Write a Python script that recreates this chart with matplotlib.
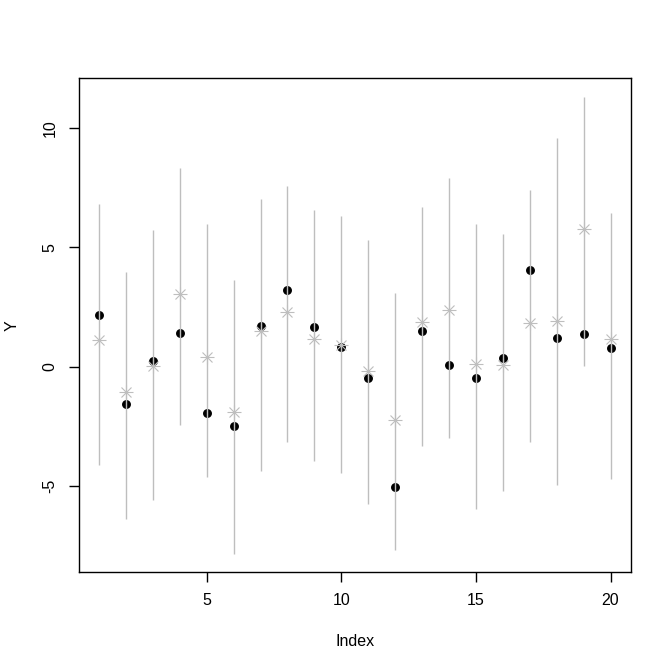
import matplotlib
matplotlib.use("Agg")
import matplotlib.pyplot as plt
import numpy as np

index = list(range(1, 21))
y_obs = [2.17, -1.55, 0.25, 1.42, -1.92, -2.47, 1.73, 3.22, 1.67, 0.84,
         -0.46, -5.01, 1.50, 0.08, -0.46, 0.38, 4.04, 1.22, 1.38, 0.79]
y_est = [1.11, -1.07, 0.04, 3.06, 0.42, -1.87, 1.50, 2.30, 1.18, 0.92,
         -0.18, -2.23, 1.88, 2.37, 0.11, 0.07, 1.82, 1.93, 5.75, 1.18]
lower = [-4.11, -6.37, -5.57, -2.44, -4.61, -7.83, -4.36, -3.15, -3.94, -4.45,
         -5.74, -7.66, -3.32, -2.98, -5.95, -5.20, -3.15, -4.95, 0.03, -4.70]
upper = [6.82, 3.98, 5.74, 8.30, 5.99, 3.65, 7.03, 7.58, 6.58, 6.32,
         5.32, 3.10, 6.70, 7.91, 5.99, 5.57, 7.41, 9.58, 11.30, 6.45]
xticks = [5, 10, 15, 20]
yticks = [-5, 0, 5, 10]

plt.rcParams['font.family'] = ['Liberation Sans', 'DejaVu Sans']
fig = plt.figure(figsize=(6.72, 6.71), dpi=100)
ax = fig.add_axes([78.5 / 672, 98.7 / 671, 552.5 / 672, 493.8 / 671])

gray = '#BEBEBE'
ax.plot(index, y_obs, linestyle='none', marker='o', color='black', markersize=5.4, zorder=2)
ax.vlines(index, lower, upper, color=gray, linewidth=1.0, zorder=3)
ax.plot(index, y_est, linestyle='none', marker='+', color=gray, markersize=9.5,
        markeredgewidth=0.8, zorder=4)
ax.plot(index, y_est, linestyle='none', marker='x', color=gray, markersize=6.7,
        markeredgewidth=0.8, zorder=4)

xmin, xmax = min(index), max(index)
dx = (xmax - xmin) * 0.04
ax.set_xlim(xmin - dx, xmax + dx)
ymin, ymax = min(lower + y_obs + y_est), max(upper + y_obs + y_est)
dy = (ymax - ymin) * 0.04
ax.set_ylim(ymin - dy, ymax + dy)

ax.set_xticks(xticks)
ax.set_yticks(yticks)
ax.set_yticklabels([str(t) for t in yticks], rotation=90, va='center')
ax.tick_params(axis='both', direction='out', length=7, width=1, labelsize=11.5, pad=8)
for s in ax.spines.values():
    s.set_linewidth(1.0)
ax.set_xlabel('Index', fontsize=11.5, va='center')
ax.set_ylabel('Y', fontsize=11.5, va='center')
ax.xaxis.set_label_coords(0.5, -0.1405)
ax.yaxis.set_label_coords(-0.1204, 0.5)

fig.savefig('out.png', dpi=100)
